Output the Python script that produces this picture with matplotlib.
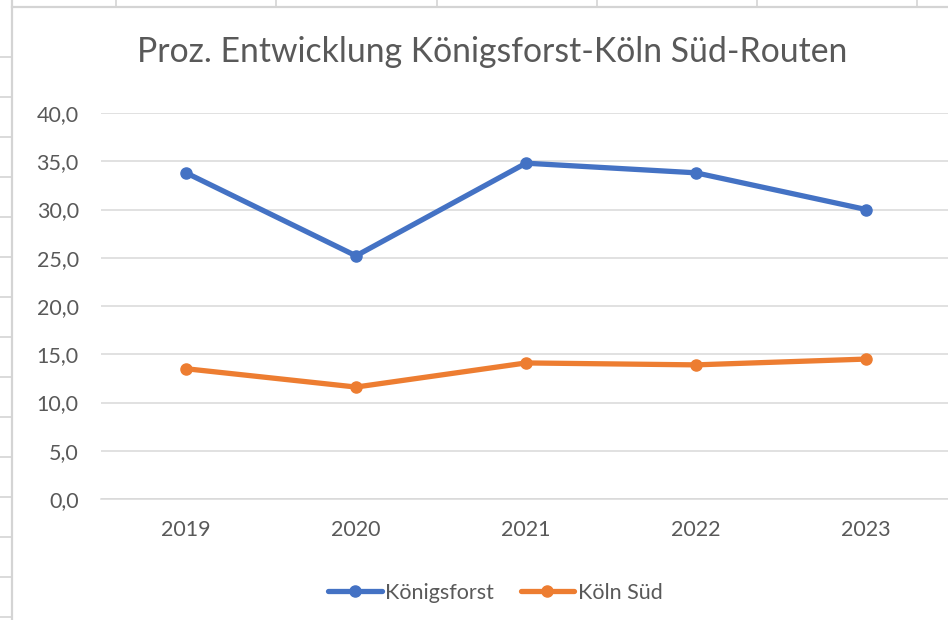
import matplotlib
matplotlib.use("Agg")
import matplotlib.pyplot as plt
from matplotlib.lines import Line2D

years = ["2019", "2020", "2021", "2022", "2023"]
koenigsforst = [33.8, 25.2, 34.8, 33.8, 30.0]
koeln_sued = [13.5, 11.6, 14.1, 13.9, 14.5]
y_ticks = [0, 5, 10, 15, 20, 25, 30, 35, 40]
title = "Proz. Entwicklung Königsforst-Köln Süd-Routen"
series_names = ["Königsforst", "Köln Süd"]

W, H = 948, 620
plt.rcParams['font.family'] = ['Lato', 'DejaVu Sans']
fig = plt.figure(figsize=(W / 100, H / 100), dpi=100)
fig.patch.set_facecolor('white')

def fx(x):
    return x / W

def fy(y):
    return 1 - y / H

# spreadsheet cell lines outside chart
cell_col = '#d4d4d4'
fig.add_artist(Line2D([fx(12), fx(12)], [0, 1], color=cell_col, lw=1.6))
fig.add_artist(Line2D([fx(12), 1], [fy(7), fy(7)], color=cell_col, lw=1.6))
for xv in [116, 276, 437, 597, 757, 917]:
    fig.add_artist(Line2D([fx(xv), fx(xv)], [fy(0), fy(7)], color=cell_col, lw=1.2))
for yv in range(57, 620, 40):
    fig.add_artist(Line2D([0, fx(12)], [fy(yv), fy(yv)], color=cell_col, lw=1.2))

ax = fig.add_axes([fx(101), fy(499), fx(850), (499 - 113) / H])
x = list(range(len(years)))
ax.plot(x, koenigsforst, color='#4472C4', lw=3.8, marker='o', ms=8,
        solid_capstyle='round', label=series_names[0])
ax.plot(x, koeln_sued, color='#ED7D31', lw=3.8, marker='o', ms=8,
        solid_capstyle='round', label=series_names[1])
ax.set_xlim(-0.5, len(years) - 0.5)
ax.set_ylim(0, 40)
ax.set_yticks(y_ticks)
ax.set_yticklabels([f"{v:.1f}".replace('.', ',') for v in y_ticks])
ax.set_xticks(x)
ax.set_xticklabels(years)
ax.grid(axis='y', color='#d9d9d9', lw=1.1)
ax.set_axisbelow(True)
for s in ['top', 'right', 'left']:
    ax.spines[s].set_visible(False)
ax.spines['bottom'].set_color('#d9d9d9')
ax.spines['bottom'].set_linewidth(1.1)
ax.tick_params(axis='both', length=0, labelsize=15.5, labelcolor='#595959')
ax.tick_params(axis='y', pad=16)
ax.tick_params(axis='x', pad=15)

fig.text(fx(492), fy(52), title, ha='center', va='center', fontsize=24.3, color='#595959')

fig.legend(loc='center', bbox_to_anchor=(fx(495), fy(593)), ncol=2, frameon=False,
           fontsize=15.5, labelcolor='#595959', handlelength=2.5, handletextpad=0.15,
           columnspacing=1.25)

fig.savefig('out.png', dpi=100, facecolor='white')
